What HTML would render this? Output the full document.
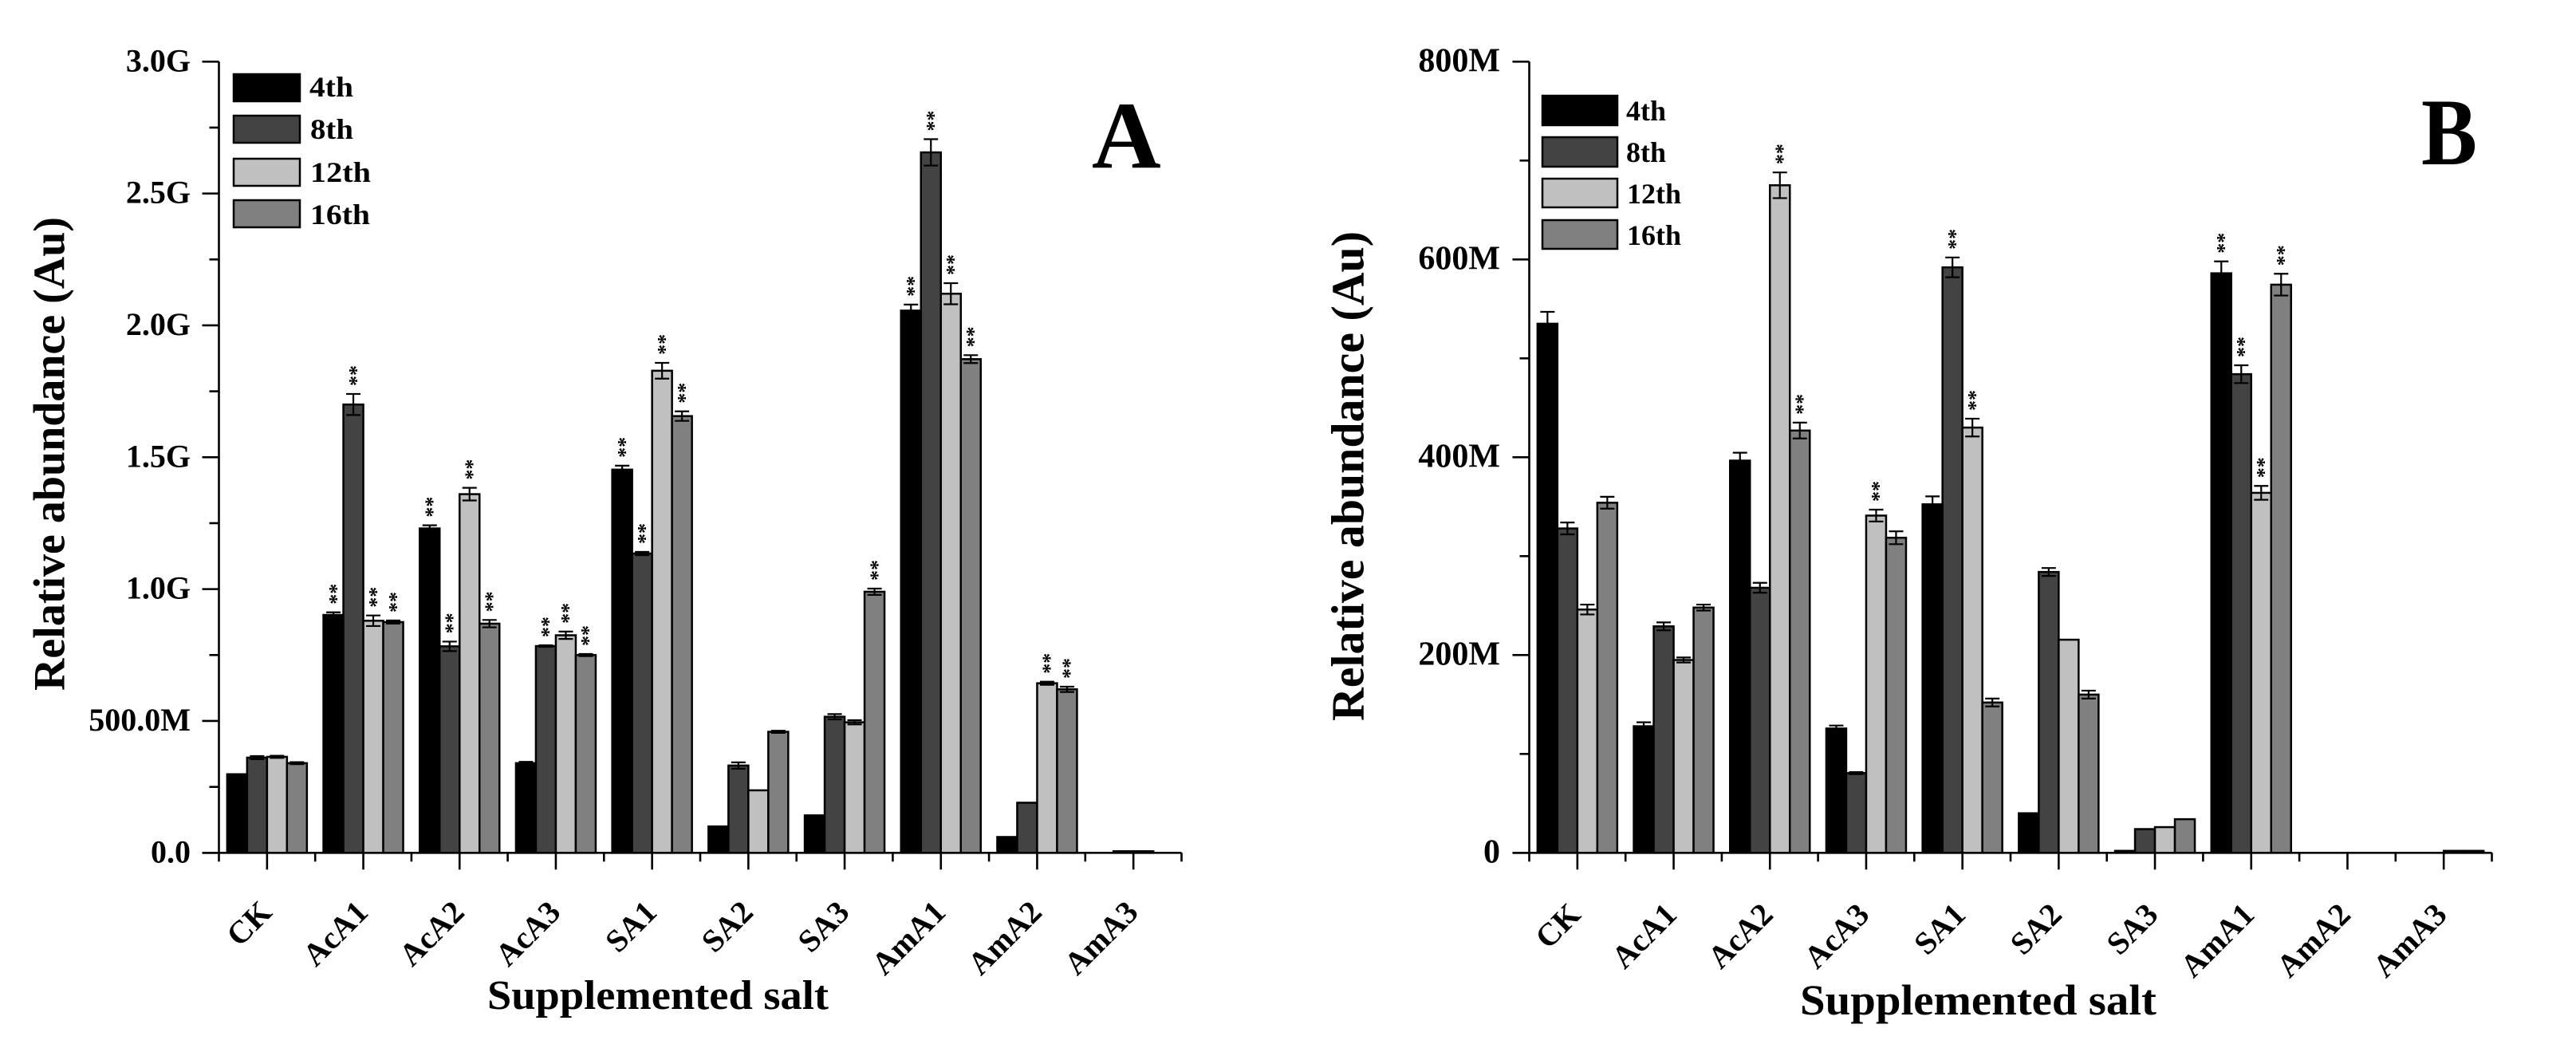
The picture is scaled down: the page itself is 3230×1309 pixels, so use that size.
<!DOCTYPE html>
<html lang="en">
<head>
<meta charset="utf-8">
<title>Relative abundance by supplemented salt</title>
<style>
html,body{margin:0;padding:0;background:#fff;}
svg{display:block;}
text{font-family:"Liberation Serif",serif;font-weight:bold;fill:#000;}
</style>
</head>
<body>
<svg id="figure" xmlns="http://www.w3.org/2000/svg" width="3230" height="1309" viewBox="0 0 3230 1309">
  <rect x="0" y="0" width="3230" height="1309" fill="#fff"/>

  <g id="panel-a">
    <text x="1369" y="210" font-size="120">A</text>
    <text transform="translate(80.5,866) rotate(-90)" font-size="56" textLength="594" lengthAdjust="spacingAndGlyphs">Relative abundance (Au)</text>
    <text x="611" y="1265" font-size="52" textLength="428" lengthAdjust="spacingAndGlyphs">Supplemented salt</text>
    <g>
      <rect x="293" y="93" width="83" height="34" fill="#000" stroke="#000" stroke-width="2.5"/>
      <text x="388" y="121" font-size="36" textLength="55" lengthAdjust="spacingAndGlyphs">4th</text>
      <rect x="293" y="145" width="83" height="34" fill="#434343" stroke="#000" stroke-width="2.5"/>
      <text x="389" y="174" font-size="36" textLength="54" lengthAdjust="spacingAndGlyphs">8th</text>
      <rect x="293" y="199" width="83" height="34" fill="#c0c0c0" stroke="#000" stroke-width="2.5"/>
      <text x="389" y="228" font-size="36" textLength="76" lengthAdjust="spacingAndGlyphs">12th</text>
      <rect x="293" y="251" width="83" height="34" fill="#808080" stroke="#000" stroke-width="2.5"/>
      <text x="389" y="281" font-size="36" textLength="75" lengthAdjust="spacingAndGlyphs">16th</text>
    </g>
  </g>

  <g id="panel-b">
    <text x="3036" y="206" font-size="120" textLength="70" lengthAdjust="spacingAndGlyphs">B</text>
    <text transform="translate(1709.5,904) rotate(-90)" font-size="58" textLength="614" lengthAdjust="spacingAndGlyphs">Relative abundance (Au)</text>
    <text x="2257" y="1272" font-size="54" textLength="447" lengthAdjust="spacingAndGlyphs">Supplemented salt</text>
    <g>
      <rect x="1934" y="120" width="94" height="37" fill="#000" stroke="#000" stroke-width="2.5"/>
      <text x="2039" y="151" font-size="36" textLength="50" lengthAdjust="spacingAndGlyphs">4th</text>
      <rect x="1934" y="172" width="94" height="37" fill="#434343" stroke="#000" stroke-width="2.5"/>
      <text x="2039" y="203" font-size="36" textLength="50" lengthAdjust="spacingAndGlyphs">8th</text>
      <rect x="1934" y="224" width="94" height="36" fill="#c0c0c0" stroke="#000" stroke-width="2.5"/>
      <text x="2040" y="255" font-size="36" textLength="68" lengthAdjust="spacingAndGlyphs">12th</text>
      <rect x="1934" y="276" width="94" height="36" fill="#808080" stroke="#000" stroke-width="2.5"/>
      <text x="2040" y="307" font-size="36" textLength="68" lengthAdjust="spacingAndGlyphs">16th</text>
    </g>
  </g>
</svg>

<script>
// Shared categories and series
const categories = ['CK','AcA1','AcA2','AcA3','SA1','SA2','SA3','AmA1','AmA2','AmA3'];
const seriesNames = ['4th','8th','12th','16th'];
const seriesColors = ['#000000','#434343','#c0c0c0','#808080'];

// Panel A values (in G)
const valuesA4th  = [0.298,0.902,1.230,0.340,1.453,0.100,0.142,2.056,0.060,0];
const valuesA8th  = [0.361,1.700,0.783,0.784,1.135,0.331,0.516,2.656,0.190,0.006];
const valuesA12th = [0.364,0.880,1.360,0.825,1.828,0.237,0.495,2.120,0.643,0.006];
const valuesA16th = [0.340,0.875,0.869,0.750,1.656,0.459,0.990,1.872,0.620,0];
const errorsA4th  = [0,0.010,0.012,0.005,0.015,0,0,0.023,0,0];
const errorsA8th  = [0.006,0.040,0.018,0.003,0.006,0.012,0.010,0.050,0,0];
const errorsA12th = [0.004,0.020,0.024,0.014,0.030,0,0.008,0.040,0.006,0];
const errorsA16th = [0.004,0.006,0.014,0.004,0.018,0.004,0.012,0.015,0.010,0];
const starsA4th   = [0,1,1,0,1,0,0,1,0,0];
const starsA8th   = [0,1,1,1,1,0,0,1,0,0];
const starsA12th  = [0,1,1,1,1,0,0,1,1,0];
const starsA16th  = [0,1,1,1,1,0,1,1,1,0];
const ticksA = [0,0.5,1,1.5,2,2.5,3];
const tickLabelsA = ['0.0','500.0M','1.0G','1.5G','2.0G','2.5G','3.0G'];

// Panel B values (in M)
const valuesB4th  = [535,128,396.6,125.7,352.4,40,2,586,0,0];
const valuesB8th  = [328,229,268,80.6,592,284,24,484,0,0];
const valuesB12th = [246,195,675,341,430,215.5,26,364,0,2];
const valuesB16th = [354,248,427,318.6,152,160,34,574.5,0,2];
const errorsB4th  = [12,4,8,3,8,0,0,12,0,0];
const errorsB8th  = [6,4,5,1,10,4,0,9,0,0];
const errorsB12th = [5,2.5,13,6,9,0,0,7,0,0];
const errorsB16th = [6,3,8,6.5,4,4,0,11,0,0];
const starsB4th   = [0,0,0,0,0,0,0,1,0,0];
const starsB8th   = [0,0,0,0,1,0,0,1,0,0];
const starsB12th  = [0,0,1,1,1,0,0,1,0,0];
const starsB16th  = [0,0,1,0,0,0,0,1,0,0];
const ticksB = [0,200,400,600,800];
const tickLabelsB = ['0','200M','400M','600M','800M'];

const SVGNS = 'http://www.w3.org/2000/svg';
const axisBottom = 1069.3;
const plotHeight = 992;
const groupStep = 120.7;
const barWidth = 25;

function make(parent, tag, attrs) {
  const el = document.createElementNS(SVGNS, tag);
  for (const k in attrs) el.setAttribute(k, attrs[k]);
  parent.appendChild(el);
  return el;
}

function drawPanel(panelId, panelKey, axisLeft, yMax, seriesValues, seriesErrors, seriesStars, ticks, tickLabels, tickFont, labelRight, catDx, catY) {
  const root = document.getElementById(panelId);
  const yScale = function (v) { return axisBottom - (v / yMax) * plotHeight; };
  const xCenter = function (i) { return axisLeft + groupStep * (i + 0.5); };
  const xBar = function (i, s) { return xCenter(i) - 2 * barWidth + s * barWidth; };
  const axisRight = axisLeft + groupStep * categories.length;

  const barsG = make(root, 'g', {});
  
  

  seriesValues.forEach(function (vals, s) {
    vals.forEach(function (v, i) {
      if (v <= 0) return;
      const rect = make(barsG, 'rect', {
        x: xBar(i, s), y: yScale(v), width: barWidth, height: axisBottom - yScale(v),
        fill: seriesColors[s], stroke: '#000', 'stroke-width': 2.5
      });
      
      
    });
  });

  seriesValues.forEach(function (vals, s) {
    vals.forEach(function (v, i) {
      const e = seriesErrors[s][i];
      const cx = xBar(i, s) + barWidth / 2;
      if (e > 0) {
        const top = yScale(v + e);
        const bottom = yScale(v - e);
        const path = make(barsG, 'path', {
          d: 'M' + (cx - 9) + ' ' + top + 'H' + (cx + 9) +
             'M' + cx + ' ' + top + 'V' + bottom +
             'M' + (cx - 9) + ' ' + bottom + 'H' + (cx + 9),
          fill: 'none', stroke: '#000', 'stroke-width': 2.2
        });
        
        
      }
      if (seriesStars[s][i]) {
        const fs = 26;
        const yb = yScale(v + e) - 10;
        const star = make(barsG, 'text', {
          transform: 'translate(' + (cx + 0.47 * fs) + ',' + yb + ') rotate(-90)',
          'font-size': fs
        });
        star.textContent = '**';
        
        
      }
    });
  });

  const axisG = make(root, 'g', { fill: 'none', stroke: '#000', 'stroke-width': 2.6 });
  
  

  const yLine = make(axisG, 'line', { x1: axisLeft, x2: axisLeft, y1: yScale(yMax), y2: axisBottom });
  
  
  const xLine = make(axisG, 'line', { x1: axisLeft - 21, x2: axisRight, y1: axisBottom, y2: axisBottom });
  
  

  ticks.forEach(function (t, k) {
    const y = yScale(t);
    const major = make(axisG, 'line', { x1: axisLeft - 21, x2: axisLeft, y1: y, y2: y });
    
    
    const label = make(root, 'text', { x: labelRight, y: y + 12, 'font-size': tickFont, 'text-anchor': 'end' });
    label.textContent = tickLabels[k];
    
    
    if (k < ticks.length - 1) {
      const my = yScale((t + ticks[k + 1]) / 2);
      const minor = make(axisG, 'line', { x1: axisLeft - 12, x2: axisLeft, y1: my, y2: my });
      
      
    }
  });

  categories.forEach(function (c, i) {
    const cx = xCenter(i);
    const major = make(axisG, 'line', { x1: cx, x2: cx, y1: axisBottom, y2: axisBottom + 21 });
    
    
    const left = make(axisG, 'line', { x1: cx - groupStep / 2, x2: cx - groupStep / 2, y1: axisBottom, y2: axisBottom + 11 });
    
    
    const label = make(root, 'text', {
      transform: 'translate(' + (cx + catDx) + ',' + catY + ') rotate(-45)',
      'font-size': 40, 'text-anchor': 'end'
    });
    label.textContent = c;
    
    
  });
  const last = make(axisG, 'line', { x1: axisRight, x2: axisRight, y1: axisBottom, y2: axisBottom + 11 });
  
  
}

drawPanel('panel-a', 'a', 274.5, 3,
  [valuesA4th, valuesA8th, valuesA12th, valuesA16th],
  [errorsA4th, errorsA8th, errorsA12th, errorsA16th],
  [starsA4th, starsA8th, starsA12th, starsA16th],
  ticksA, tickLabelsA, 40, 239, 8, 1146);

drawPanel('panel-b', 'b', 1917.5, 800,
  [valuesB4th, valuesB8th, valuesB12th, valuesB16th],
  [errorsB4th, errorsB8th, errorsB12th, errorsB16th],
  [starsB4th, starsB8th, starsB12th, starsB16th],
  ticksB, tickLabelsB, 42, 1881, 6, 1149);
</script>
</body>
</html>
